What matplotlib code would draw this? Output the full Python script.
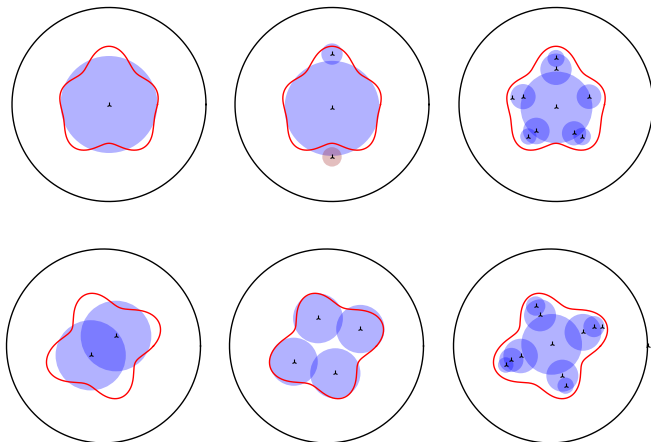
import numpy as np
import matplotlib.pyplot as plt
from matplotlib.patches import Circle

# outline of each shape: base radius plus cosine harmonics (order, amplitude, phase in degrees)
five_lobe_base = 0.5
five_lobe_terms = [(3, 0.05, 90.0), (5, 0.05, 90.0)]
four_lobe_base = 0.495
four_lobe_terms = [(4, 0.095, 20.0), (2, 0.042, 42.5)]

# disks as (x, y, radius)
top_one = [(0.0, 0.0, 0.5)]
top_three = [(0.0, -0.04, 0.49), (0.0, 0.52, 0.11)]
top_three_rejected = [(0.0, -0.54, 0.10)]
top_many = [
    (0.005, -0.03, 0.37),
    (0.0, 0.363, 0.162),
    (0.0, 0.475, 0.088),
    (-0.34, 0.081, 0.13),
    (0.34, 0.081, 0.127),
    (-0.203, -0.273, 0.137),
    (-0.285, -0.33, 0.084),
    (0.186, -0.297, 0.125),
    (0.27, -0.33, 0.09),
]
top_many_extra = [(-0.457, 0.064)]

bottom_two = [(0.129, 0.103, 0.364), (-0.132, -0.096, 0.362)]
bottom_four = [
    (-0.088, 0.285, 0.257),
    (0.349, 0.175, 0.249),
    (-0.338, -0.162, 0.248),
    (0.091, -0.282, 0.259),
]
bottom_many = [
    (0.012, 0.017, 0.313),
    (-0.108, 0.316, 0.165),
    (-0.153, 0.412, 0.10),
    (0.335, 0.141, 0.19),
    (0.448, 0.2, 0.109),
    (-0.308, -0.103, 0.178),
    (-0.404, -0.144, 0.125),
    (-0.462, -0.196, 0.08),
    (0.122, -0.306, 0.165),
    (0.156, -0.409, 0.084),
]
bottom_many_extra = [(0.527, 0.192), (1.0, 0.0)]

# panel centres in pixels (x from left, y from top)
centres_px = [(109, 104.5), (332, 104.5), (556, 104.5),
              (103.5, 346), (326.5, 346), (550.5, 346)]
scale_px = 97.0
lim = 1.05

W, H = 651, 442


def outline(base, terms, n=600):
    t = np.linspace(0, 2 * np.pi, n)
    r = np.full_like(t, base)
    for k, a, ph in terms:
        r += a * np.cos(k * (t - np.deg2rad(ph)))
    return r * np.cos(t), r * np.sin(t)


def draw_panel(ax, shape, disks, rejected=(), extra=()):
    t = np.linspace(0, 2 * np.pi, 400)
    ax.plot(np.cos(t), np.sin(t), color="black", lw=1.0)
    for x, y, r in disks:
        ax.add_patch(Circle((x, y), r, facecolor="blue", edgecolor="none", alpha=0.3))
    for x, y, r in rejected:
        ax.add_patch(Circle((x, y), r, facecolor="brown", edgecolor="none", alpha=0.3))
    sx, sy = shape
    ax.plot(sx, sy, color="red", lw=1.0)
    pts = [(x, y) for x, y, _ in list(disks) + list(rejected)] + list(extra)
    px = [p[0] for p in pts]
    py = [p[1] for p in pts]
    ax.plot(px, py, linestyle="none", marker="2", color="black", ms=3.8, mew=0.8)
    ax.set_xlim(-lim, lim)
    ax.set_ylim(-lim, lim)
    ax.set_aspect("equal")
    ax.axis("off")


fig = plt.figure(figsize=(W / 100, H / 100), dpi=100)
size = 2 * lim * scale_px
axes = []
for cx, cy in centres_px:
    left = (cx - size / 2) / W
    bottom = (H - cy - size / 2) / H
    axes.append(fig.add_axes([left, bottom, size / W, size / H]))

five = outline(five_lobe_base, five_lobe_terms)
four = outline(four_lobe_base, four_lobe_terms)

draw_panel(axes[0], five, top_one)
draw_panel(axes[1], five, top_three, rejected=top_three_rejected)
draw_panel(axes[2], five, top_many, extra=top_many_extra)
draw_panel(axes[3], four, bottom_two)
draw_panel(axes[4], four, bottom_four)
draw_panel(axes[5], four, bottom_many, extra=bottom_many_extra)

fig.savefig("out.png", dpi=100)
